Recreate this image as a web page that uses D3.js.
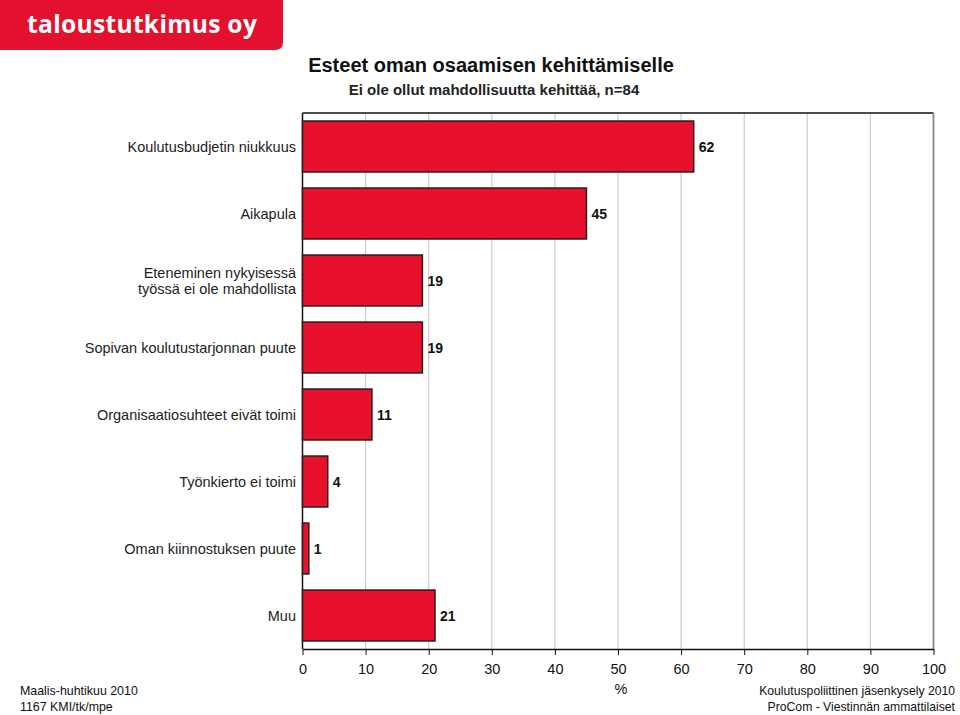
<!DOCTYPE html>
<html><head><meta charset="utf-8">
<script src="https://cdn.jsdelivr.net/npm/d3@7"></script>
<style>body{margin:0;background:#fff}svg{display:block;font-family:"Liberation Sans",Arial,Helvetica,sans-serif}</style>
</head><body><svg id="c" width="960" height="715"></svg>
<script>
const categories = ["Koulutusbudjetin niukkuus","Aikapula","Eteneminen nykyisessä|työssä ei ole mahdollista","Sopivan koulutustarjonnan puute","Organisaatiosuhteet eivät toimi","Työnkierto ei toimi","Oman kiinnostuksen puute","Muu"];
const values = [62,45,19,19,11,4,1,21];
const ticks = [0,10,20,30,40,50,60,70,80,90,100];

const svg = d3.select("#c");
const L=302.5, R=933.5, T=113, B=649;
const x = d3.scaleLinear().domain([0,100]).range([L,R]);
const y = d3.scaleBand().domain(categories).range([T,B]).paddingInner(0.24).paddingOuter(0.12);

// logo
svg.append("path").attr("d","M0,0H283V42Q283,50 275,50H0Z").attr("fill","#e3112d");
svg.append("text").attr("x",27).attr("y",33).attr("fill","#fff").attr("font-size",24.6).attr("font-weight","bold")
  .attr("font-family","'Open Sans','DejaVu Sans',sans-serif").attr("letter-spacing",0.3).text("taloustutkimus oy");

// titles
svg.append("text").attr("x",491).attr("y",72).attr("text-anchor","middle").attr("font-size",20).attr("font-weight","bold").attr("fill","#111").text("Esteet oman osaamisen kehittämiselle");
svg.append("text").attr("x",494).attr("y",95).attr("text-anchor","middle").attr("font-size",15).attr("font-weight","bold").attr("fill","#222").text("Ei ole ollut mahdollisuutta kehittää, n=84");

// grid
svg.append("g").selectAll("line").data(ticks.slice(1,-1)).join("line")
  .attr("x1",d=>x(d)).attr("x2",d=>x(d)).attr("y1",T).attr("y2",B).attr("stroke","#cccccc").attr("stroke-width",1.2);
// frame
svg.append("line").attr("x1",L).attr("x2",R).attr("y1",T).attr("y2",T).attr("stroke","#111").attr("stroke-width",1.5);
svg.append("line").attr("x1",R).attr("x2",R).attr("y1",T).attr("y2",B).attr("stroke","#888").attr("stroke-width",1.8);
svg.append("line").attr("x1",L).attr("x2",L).attr("y1",T).attr("y2",B).attr("stroke","#111").attr("stroke-width",1.5);

// bars
svg.append("g").selectAll("rect").data(values).join("rect")
  .attr("x",x(0)).attr("y",(d,i)=>y(categories[i])).attr("width",d=>x(d)-x(0)).attr("height",y.bandwidth())
  .attr("fill","#e8112d").attr("stroke","#2a1a1a").attr("stroke-width",1.5);

// value labels
svg.append("g").selectAll("text").data(values).join("text")
  .attr("x",d=>x(d)+5).attr("y",(d,i)=>y(categories[i])+y.bandwidth()/2+5)
  .attr("font-size",14).attr("font-weight","bold").attr("fill","#111").text(d=>d);

// category labels
const cl = svg.append("g").selectAll("text").data(categories).join("text")
  .attr("text-anchor","end").attr("font-size",14.5).attr("fill","#222")
  .attr("y",d=>y(d)+y.bandwidth()/2+5);
cl.each(function(d){
  const parts=d.split("|"); const t=d3.select(this);
  parts.forEach((p,i)=>t.append("tspan").attr("x",296).attr("dy",i===0?(-(parts.length-1)*8)+"px":"16px").text(p));
});

// axis
const ax = svg.append("g").attr("transform",`translate(0,${B})`).call(d3.axisBottom(x).tickValues(ticks).tickSize(6).tickSizeOuter(0).tickPadding(9));
ax.select(".domain").attr("stroke","#111").attr("stroke-width",1.5);
ax.selectAll(".tick line").attr("stroke","#111");
ax.selectAll("text").attr("font-size",14.5).attr("fill","#111").attr("font-family","'Liberation Sans',Arial,sans-serif");
svg.append("text").attr("x",621).attr("y",694).attr("text-anchor","middle").attr("font-size",14.5).attr("fill","#111").text("%");

// footers
svg.append("text").attr("x",20).attr("y",695).attr("font-size",12.4).attr("fill","#111").text("Maalis-huhtikuu 2010");
svg.append("text").attr("x",20).attr("y",711).attr("font-size",12.4).attr("fill","#111").text("1167 KMI/tk/mpe");
svg.append("text").attr("x",955).attr("y",695).attr("text-anchor","end").attr("font-size",12.2).attr("fill","#111").text("Koulutuspoliittinen jäsenkysely 2010");
svg.append("text").attr("x",955).attr("y",711).attr("text-anchor","end").attr("font-size",12.2).attr("fill","#111").text("ProCom - Viestinnän ammattilaiset");
</script></body></html>
